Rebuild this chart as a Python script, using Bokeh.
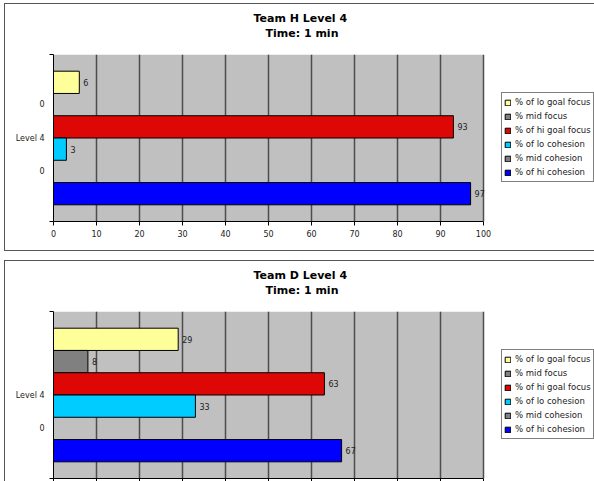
from bokeh.plotting import figure
from bokeh.layouts import column
from bokeh.models import (ColumnDataSource, Range1d, FixedTicker, Legend, LegendItem,
                          Title, BoxAnnotation)
from bokeh.core.properties import value
from bokeh.embed import file_html
from bokeh.resources import INLINE

# ---- data ----
series = ["% of lo goal focus", "% mid focus", "% of hi goal focus",
          "% of lo cohesion", "% mid cohesion", "% of hi cohesion"]
colors = ["#FFFF99", "#808080", "#DD0806", "#00CCFF", "#808080", "#0000FF"]
category = "Level 4"
team_h_values = [6, 0, 93, 3, 0, 97]
team_d_values = [29, 8, 63, 33, 0, 67]
x_ticks = [0, 10, 20, 30, 40, 50, 60, 70, 80, 90, 100]
title_lines_h = ["Team H Level 4", "Time: 1 min"]
title_lines_d = ["Team D Level 4", "Time: 1 min"]

FONT = "DejaVu Sans"
N = len(series)
PAD = 0.75          # empty band above and below the bars, in bar heights
FIG_W = 590
BORDER_L = 49
PLOT_W = 430        # pixel width of the 0..100 value scale
FRAME_W = FIG_W - BORDER_L   # frame also hosts the legend on its right


def make_chart(vals, title_lines, height, show_x_labels):
    slots = list(range(N))
    src = ColumnDataSource(dict(y=slots, right=vals, color=colors, name=series))
    nz = [i for i in slots if vals[i] != 0]
    lab_src = ColumnDataSource(dict(x=[vals[i] for i in nz], y=[slots[i] for i in nz],
                                    text=[str(vals[i]) for i in nz]))

    frame_css = ("inset 1px 1px 0 0 #555555, inset 0 -1px 0 0 #555555"
                 if show_x_labels else "inset 1px 1px 0 0 #555555")
    xmax = x_ticks[-1]
    p = figure(width=FIG_W, height=height, output_backend="svg", toolbar_location=None,
               x_range=Range1d(0, xmax * FRAME_W / PLOT_W),
               y_range=Range1d(N - 0.5 + PAD, -0.5 - PAD),
               min_border_left=BORDER_L, min_border_right=0, min_border_top=51,
               min_border_bottom=height - 218,
               background_fill_color="white", border_fill_alpha=0.0,
               outline_line_color=None,
               styles={"box-shadow": frame_css})

    # grey plot area (0..100)
    p.add_layout(BoxAnnotation(left=0, right=xmax, fill_color="#C0C0C0", fill_alpha=1.0,
                               line_color=None, level="image"))

    # grid
    p.ygrid.visible = False
    p.xgrid.ticker = FixedTicker(ticks=x_ticks)
    p.xgrid.grid_line_color = "#4D4D4D"
    p.xgrid.grid_line_width = 1.5

    bars = p.hbar(y="y", left=0, right="right", height=1, fill_color="color",
                  line_color="black", line_width=1, source=src)
    p.text(x="x", y="y", text="text", source=lab_src, x_offset=4,
           text_baseline="middle", text_align="left", text_font=value(FONT),
           text_font_size="8px", text_color="#222222")

    # x axis
    xa = p.xaxis[0]
    xa.ticker = FixedTicker(ticks=x_ticks)
    xa.bounds = (0, xmax)
    xa.axis_line_color = "black"
    xa.axis_line_width = 1
    xa.major_tick_line_color = "black"
    xa.major_tick_in = 0
    xa.minor_tick_line_color = None
    xa.major_label_text_font = FONT
    xa.major_label_text_color = "#222222"
    xa.major_label_text_font_size = "8px"
    if show_x_labels:
        xa.major_tick_out = 4
        xa.major_label_standoff = 4
    else:
        # tick labels of the lower chart fall below the visible page
        xa.major_tick_out = 3
        xa.major_label_standoff = 0
        xa.major_label_overrides = {t: "" for t in x_ticks}

    # y axis: category label plus the "0" data labels of empty bars
    ya = p.yaxis[0]
    zero_slots = [float(i) for i in slots if vals[i] == 0]
    centre = (N - 1) / 2
    ya.ticker = FixedTicker(ticks=sorted(zero_slots + [centre]),
                            minor_ticks=[-0.5 - PAD, N - 0.5 + PAD])
    overrides = {s: "0" for s in zero_slots}
    overrides[centre] = category
    ya.major_label_overrides = overrides
    ya.axis_line_color = "black"
    ya.major_tick_line_color = None
    ya.major_tick_in = 0
    ya.major_tick_out = 0
    ya.minor_tick_line_color = "black"
    ya.minor_tick_in = 0
    ya.minor_tick_out = 4
    ya.major_label_standoff = 5
    ya.major_label_text_font = FONT
    ya.major_label_text_font_size = "8px"
    ya.major_label_text_color = "#222222"

    # titles (inner line first: later "above" panels stack further out)
    p.add_layout(Title(text=title_lines[1], align="left", offset=212, standoff=0,
                       padding=dict(left=0, right=0, top=0, bottom=15),
                       text_font=FONT, text_font_size="11px", text_font_style="bold",
                       text_color="black"), "above")
    p.add_layout(Title(text=title_lines[0], align="left", offset=200, standoff=0,
                       padding=dict(left=0, right=0, top=3, bottom=0),
                       text_font=FONT, text_font_size="11px", text_font_style="bold",
                       text_color="black"), "above")

    # legend (inside the widened frame, right of the value scale)
    items = [LegendItem(label=series[i], renderers=[bars], index=i) for i in slots]
    leg = Legend(items=items, location=(PLOT_W + 18, 39), orientation="vertical",
                 padding=2, spacing=0, margin=0, label_height=14,
                 glyph_height=7, glyph_width=7, label_standoff=4,
                 label_text_font=FONT, label_text_font_size="8.5px",
                 label_text_color="#222222", border_line_color="black",
                 border_line_width=1, background_fill_color="white",
                 background_fill_alpha=1.0)
    p.add_layout(leg)
    return p


p1 = make_chart(team_h_values, title_lines_h, 248, True)
p2 = make_chart(team_d_values, title_lines_d, 221, False)

layout = column(p1, p2, spacing=9, margin=(3, 0, 0, 4))

open("out.html", "w").write(file_html(layout, INLINE))
